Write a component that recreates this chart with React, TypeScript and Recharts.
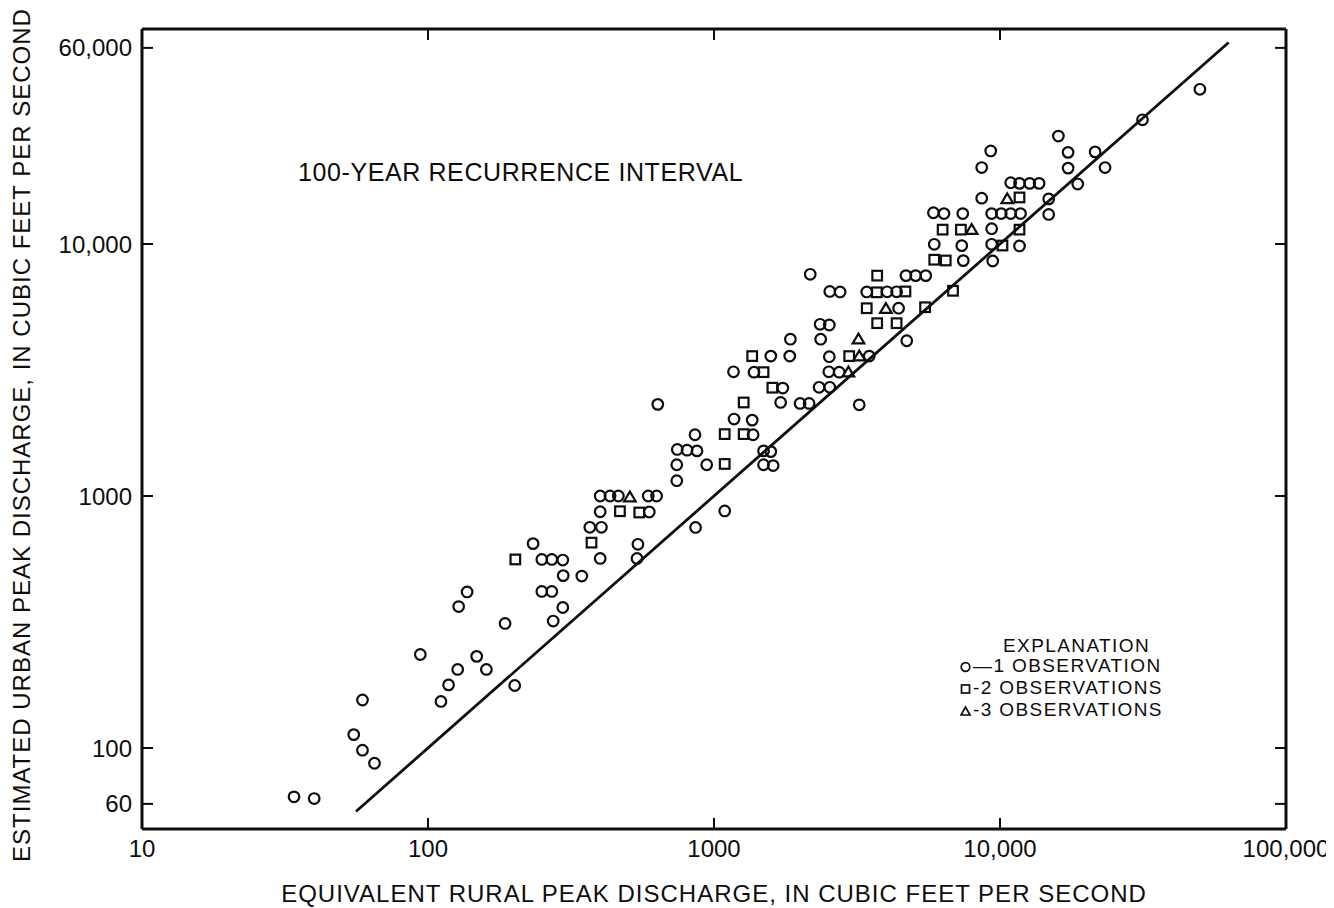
import { ScatterChart, Scatter, XAxis, YAxis, ReferenceLine, Legend } from "recharts";

const xTicks = [10, 100, 1000, 10000, 100000];
const yTicks = [60, 100, 1000, 10000, 60000];

// [equivalent rural, estimated urban] in cfs
const oneObservation = [
  [34, 64], [40, 63], [55, 113], [59, 155], [59, 98], [65, 87], [94, 235], [111, 153],
  [118, 178], [127, 205], [148, 231], [160, 205], [186, 312], [128, 364], [137, 416], [201, 177],
  [233, 647], [250, 560], [271, 560], [296, 557], [297, 483], [345, 481], [250, 418], [271, 418],
  [296, 361], [274, 319], [400, 1000], [433, 1000], [463, 1000], [589, 1000], [630, 1000], [400, 866],
  [594, 864], [368, 751], [404, 751], [400, 565], [542, 643], [538, 565], [741, 1150], [741, 1330],
  [744, 1530], [805, 1520], [872, 1510], [858, 1750], [862, 750], [636, 2310], [943, 1330], [1090, 872],
  [1370, 1750], [1175, 2020], [1360, 2000], [1490, 1510], [1580, 1500], [1490, 1330], [1610, 1320],
  [1710, 2350], [2000, 2330], [2150, 2330], [3220, 2300], [1740, 2680], [2330, 2700], [2540, 2700],
  [1170, 3110], [1380, 3100], [2520, 3110], [2740, 3100], [1580, 3590], [1840, 3590], [2530, 3570],
  [3490, 3590], [1850, 4190], [2360, 4190], [4720, 4130], [2350, 4800], [2530, 4770], [2540, 6480],
  [2760, 6450], [3420, 6450], [4030, 6460], [4350, 6460], [4420, 5560], [2170, 7580], [4690, 7490],
  [5070, 7490], [5500, 7490], [5890, 9970], [7350, 9850], [9350, 9970], [11700, 9820], [7440, 8590],
  [9430, 8560], [9350, 11500], [5850, 13300], [6370, 13200], [7410, 13200], [9350, 13200],
  [10100, 13200], [10900, 13200], [11800, 13200], [14800, 13100], [8630, 15200], [14800, 15100],
  [10900, 17500], [11700, 17400], [12700, 17400], [13700, 17400], [18700, 17300], [8630, 20100],
  [17300, 20000], [23300, 20100], [9280, 23400], [17300, 23100], [21500, 23200], [16000, 26800],
  [31500, 31100], [50000, 41100],
];

const twoObservations = [
  [202, 560], [373, 653], [469, 870], [548, 860], [1270, 2350], [1090, 1760], [1270, 1760],
  [1090, 1340], [1360, 3590], [1490, 3100], [1600, 2690], [2970, 3590], [3710, 6430], [4670, 6480],
  [6850, 6520], [3420, 5560], [5470, 5610], [3720, 4850], [4350, 4850], [3720, 7490], [6300, 11400],
  [7300, 11400], [11700, 11400], [10200, 9860], [5890, 8660], [6460, 8600], [11700, 15300],
];

const threeObservations = [
  [508, 990], [3990, 5540], [3200, 4190], [3220, 3590], [2950, 3100], [7960, 11400], [10600, 15100],
];

// line of equality
const fitLine = [
  [56, 56],
  [63000, 63000],
];

const legendRows = [
  { shape: "circle", text: "\u20141 OBSERVATION" },
  { shape: "square", text: "-2 OBSERVATIONS" },
  { shape: "triangle", text: "-3 OBSERVATIONS" },
];

const INK = "#0d0d0d";
const FONT = '"Liberation Sans", Arial, Helvetica, sans-serif';
const TICK_LEN = 11;

const toPoints = (rows: number[][]) => rows.map(([rural, urban]) => ({ rural, urban }));

const fmt = (v: number) => (v >= 10000 ? v.toLocaleString("en-US") : String(v));

function CircleMark({ cx, cy }: any) {
  return <circle cx={cx} cy={cy} r={5.3} fill="none" stroke={INK} strokeWidth={2.2} />;
}

function SquareMark({ cx, cy }: any) {
  return <rect x={cx - 4.8} y={cy - 4.8} width={9.6} height={9.6} fill="none" stroke={INK} strokeWidth={2.2} />;
}

function TriangleMark({ cx, cy }: any) {
  return (
    <path
      d={`M${cx},${cy - 5.5}L${cx + 5.8},${cy + 4.2}L${cx - 5.8},${cy + 4.2}Z`}
      fill="none"
      stroke={INK}
      strokeWidth={2.2}
    />
  );
}

// inward tick marks, labels outside
function BottomTick({ x, y, payload }: any) {
  const ay = y - 11;
  return (
    <g>
      <line x1={x} x2={x} y1={ay} y2={ay - TICK_LEN} stroke={INK} strokeWidth={2} />
      <text x={x} y={y} dy="0.71em" textAnchor="middle" fill={INK} style={{ fontFamily: FONT, fontSize: 24 }}>
        {fmt(payload.value)}
      </text>
    </g>
  );
}

function LeftTick({ x, y, payload }: any) {
  const ax = x + 10;
  return (
    <g>
      <line x1={ax} x2={ax + TICK_LEN} y1={y} y2={y} stroke={INK} strokeWidth={2} />
      <text x={x} y={y} dy="0.355em" textAnchor="end" fill={INK} style={{ fontFamily: FONT, fontSize: 24 }}>
        {fmt(payload.value)}
      </text>
    </g>
  );
}

function TopTick({ x, y }: any) {
  return <line x1={x} x2={x} y1={y} y2={y + TICK_LEN} stroke={INK} strokeWidth={2} />;
}

function RightTick({ x, y }: any) {
  return <line x1={x} x2={x - TICK_LEN} y1={y} y2={y} stroke={INK} strokeWidth={2} />;
}

function XTitle({ viewBox }: any) {
  const { x, y, width, height } = viewBox;
  return (
    <text x={x + width / 2} y={y + height + 23} textAnchor="middle" fill={INK}
      style={{ fontFamily: FONT, fontSize: 24, letterSpacing: 1 }}>
      EQUIVALENT RURAL PEAK DISCHARGE, IN CUBIC FEET PER SECOND
    </text>
  );
}

function YTitle({ viewBox }: any) {
  const { x, y, height } = viewBox;
  const tx = x + 8;
  const ty = y + height / 2 + 6;
  return (
    <text x={tx} y={ty} textAnchor="middle" fill={INK} transform={`rotate(-90, ${tx}, ${ty})`}
      style={{ fontFamily: FONT, fontSize: 24, letterSpacing: 1 }}>
      ESTIMATED URBAN PEAK DISCHARGE, IN CUBIC FEET PER SECOND
    </text>
  );
}

function LegendMark({ shape }: { shape: string }) {
  return (
    <svg width={12} height={12} style={{ verticalAlign: "-1px", marginRight: 1 }}>
      {shape === "circle" && <circle cx={5.5} cy={6} r={4.3} fill="none" stroke={INK} strokeWidth={1.7} />}
      {shape === "square" && <rect x={1.5} y={2} width={8} height={8} fill="none" stroke={INK} strokeWidth={1.7} />}
      {shape === "triangle" && <path d="M5.5,2L10,10L1,10Z" fill="none" stroke={INK} strokeWidth={1.7} />}
    </svg>
  );
}

function Explanation() {
  return (
    <div style={{ fontFamily: FONT, fontSize: 19, letterSpacing: 1.4, color: INK, lineHeight: "22px", whiteSpace: "nowrap" }}>
      <div style={{ paddingLeft: 43, marginBottom: -2 }}>EXPLANATION</div>
      {legendRows.map((r) => (
        <div key={r.shape}>
          <LegendMark shape={r.shape} />
          {r.text}
        </div>
      ))}
    </div>
  );
}

const axisLine = { stroke: INK, strokeWidth: 3 };

export default function App() {
  return (
    <div style={{ position: "relative", width: 1326, height: 900, background: "#fff" }}>
      <ScatterChart width={1326} height={900} margin={{ top: 20, right: 47, bottom: 29, left: 14 }}>
        <XAxis
          type="number"
          dataKey="rural"
          scale="log"
          domain={[10, 100000]}
          allowDataOverflow
          ticks={xTicks}
          interval={0}
          tickSize={0}
          tickMargin={11}
          height={50}
          axisLine={axisLine}
          tickLine={false}
          tick={BottomTick}
          label={{ content: XTitle }}
        />
        <XAxis
          xAxisId="top"
          orientation="top"
          type="number"
          dataKey="rural"
          scale="log"
          domain={[10, 100000]}
          allowDataOverflow
          ticks={xTicks}
          interval={0}
          tickSize={0}
          tickMargin={0}
          height={1}
          axisLine={axisLine}
          tickLine={false}
          tick={TopTick}
        />
        <YAxis
          type="number"
          dataKey="urban"
          scale="log"
          domain={[47.7, 71300]}
          allowDataOverflow
          ticks={yTicks}
          interval={0}
          tickSize={0}
          tickMargin={10}
          width={120}
          axisLine={axisLine}
          tickLine={false}
          tick={LeftTick}
          label={{ content: YTitle }}
        />
        <YAxis
          yAxisId="right"
          orientation="right"
          type="number"
          dataKey="urban"
          scale="log"
          domain={[47.7, 71300]}
          allowDataOverflow
          ticks={yTicks}
          interval={0}
          tickSize={0}
          tickMargin={0}
          width={1}
          axisLine={axisLine}
          tickLine={false}
          tick={RightTick}
        />
        <ReferenceLine
          segment={fitLine.map(([x, y]) => ({ x, y }))}
          stroke={INK}
          strokeWidth={2.8}
          ifOverflow="visible"
        />
        <Scatter data={toPoints(oneObservation)} shape={CircleMark} isAnimationActive={false} />
        <Scatter data={toPoints(twoObservations)} shape={SquareMark} isAnimationActive={false} />
        <Scatter data={toPoints(threeObservations)} shape={TriangleMark} isAnimationActive={false} />
        <Legend
          layout="vertical"
          align="center"
          verticalAlign="middle"
          wrapperStyle={{ left: 952, top: 627, width: 240 }}
          content={Explanation}
        />
      </ScatterChart>
      <div
        style={{
          position: "absolute",
          left: 290,
          top: 152,
          fontFamily: FONT,
          fontSize: 25,
          letterSpacing: 0.6,
          lineHeight: "25px",
          color: INK,
          whiteSpace: "nowrap",
        }}
      >
        100-YEAR RECURRENCE INTERVAL
      </div>
    </div>
  );
}
